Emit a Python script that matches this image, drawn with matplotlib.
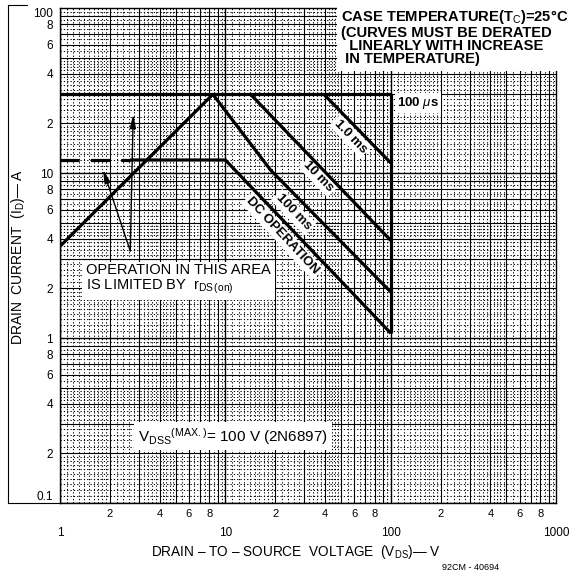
import numpy as np
import matplotlib.pyplot as plt
from matplotlib.lines import Line2D

plt.rcParams.update({
    "font.family": ["Liberation Sans", "DejaVu Sans"],
    "mathtext.fontset": "custom",
    "mathtext.rm": "Liberation Sans",
    "mathtext.it": "Liberation Sans:italic",
    "mathtext.bf": "Liberation Sans:bold",
})

# ---------------------------------------------------------------------------
# Data
# ---------------------------------------------------------------------------
top_v = [1, 100]             # pulsed current limit (100 us)
top_i = [30, 30]
vmax_v = [100, 100]          # VDSS max
vmax_i = [30, 1.07]
rds_v = [1, 8.4]             # rDS(on) limit
rds_i = [3.6, 30]
ms1_v = [39.4, 100]
ms1_i = [30, 11.5]
ms10_v = [14.2, 100]
ms10_i = [30, 3.9]
ms100_v = [8.4, 18.8, 100]
ms100_i = [30, 10.4, 1.9]
dc_dash_v = [1, 2.65]
dc_dash_i = [12, 12]
dc_v = [2.65, 10, 100]
dc_i = [12, 12, 1.07]

x_major = [1, 10, 100, 1000]
x_major_labels = ["1", "10", "100", "1000"]
x_minor = [2, 4, 6, 8, 20, 40, 60, 80, 200, 400, 600, 800]
x_minor_labels = ["2", "4", "6", "8"] * 3
y_major = [0.1, 1, 10, 100]
y_major_labels = ["0.1", "1", "10", "100"]
y_minor = [0.2, 0.4, 0.6, 0.8, 2, 4, 6, 8, 20, 40, 60, 80]
y_minor_labels = ["2", "4", "6", "8"] * 3

# ---------------------------------------------------------------------------
# Figure
# ---------------------------------------------------------------------------
fig = plt.figure(figsize=(5.77, 5.75), dpi=100)
ax = fig.add_axes([0.104, 0.125, 0.860, 0.861])
ax.set_xscale("log")
ax.set_yscale("log")
ax.set_xlim(1, 1000)
ax.set_ylim(0.1, 100)

# log-paper grid
def paper_lines(axline, decades):
    for d in decades:
        for n in range(1, 10):
            axline(n * d, color="black", lw=1.0 if n == 1 else 0.8, zorder=1)
            step = 0.1 if n < 2 else (0.2 if n < 5 else 0.5)
            for s in np.arange(n + step, n + 1 - 1e-9, step):
                axline(s * d, color="black", lw=0.75,
                       ls=(0, (1.2, 2.0)), zorder=1)

paper_lines(ax.axvline, [1, 10, 100])
paper_lines(ax.axhline, [0.1, 1, 10])

# curves
lw = 2.3
kw = dict(color="black", lw=lw, zorder=5, solid_capstyle="butt")
ax.plot(top_v, top_i, **kw)
ax.plot(vmax_v, vmax_i, **kw)
ax.plot(rds_v, rds_i, **kw)
ax.plot(ms1_v, ms1_i, **kw)
ax.plot(ms10_v, ms10_i, **kw)
ax.plot(ms100_v, ms100_i, **kw)
ax.plot(dc_v, dc_i, **kw)
ax.plot(dc_dash_v, dc_dash_i, color="black", lw=lw, ls=(0, (6, 3.5)), zorder=5)

# curve labels
box = dict(facecolor="white", edgecolor="none", pad=1.5)
lab = dict(fontsize=9.5, fontweight="bold", ha="center", va="center",
           bbox=box, zorder=4)
ax.text(146, 26.6, "100 $\\mu$s", **lab)
ax.text(57, 16.7, "1.0 ms", rotation=-46, **lab)
ax.text(36.6, 9.5, "10 ms", rotation=-46, **lab)
ax.text(25.8, 5.8, "100 ms", rotation=-46, **lab)
ax.text(22.2, 4.15, "DC OPERATION", rotation=-47, **lab)

# rDS(on) note with arrows
ax.text(0.052, 0.452, "OPERATION IN THIS AREA\nIS LIMITED BY  r$_{\\mathrm{DS\\,(on)}}$",
        transform=ax.transAxes, fontsize=10.5, ha="left", va="center",
        linespacing=1.1, bbox=dict(facecolor="white", edgecolor="none", pad=3),
        zorder=4)
arrow = dict(arrowstyle="-|>,head_length=0.8,head_width=0.18",
             color="black", lw=1.0, shrinkA=0, shrinkB=0)
ax.annotate("", xy=(1.82, 10.5), xytext=(2.66, 3.37), arrowprops=arrow, zorder=6)
ax.annotate("", xy=(2.77, 22.7), xytext=(2.66, 3.37), arrowprops=arrow, zorder=6)

# case temperature note
ax.text(0.566, 1.0, "CASE TEMPERATURE(T$_\\mathrm{C}$)=25°C\n"
        "(CURVES MUST BE DERATED\n"
        "  LINEARLY WITH INCREASE\n"
        " IN TEMPERATURE)",
        transform=ax.transAxes, fontsize=10.6, fontweight="bold",
        ha="left", va="top", linespacing=0.95, clip_on=False,
        bbox=dict(facecolor="white", edgecolor="none", pad=3), zorder=4)

# VDSS note
ax.text(0.157, 0.135, "V$_{\\mathrm{DSS}}$$^{\\mathrm{(MAX.)}}$= 100 V (2N6897)",
        transform=ax.transAxes, fontsize=11, ha="left", va="center",
        bbox=dict(facecolor="white", edgecolor="none", pad=2.5), zorder=4)

# ticks
ax.set_xticks(x_major)
ax.set_xticklabels(x_major_labels)
ax.set_xticks(x_minor, minor=True)
ax.set_xticklabels(x_minor_labels, minor=True)
ax.set_yticks(y_major)
ax.set_yticklabels(y_major_labels)
ax.set_yticks(y_minor, minor=True)
ax.set_yticklabels(y_minor_labels, minor=True)
ax.tick_params(axis="x", which="major", length=0, pad=17, labelsize=8.5)
ax.tick_params(axis="x", which="minor", length=0, pad=4, labelsize=8)
ax.tick_params(axis="y", which="both", length=0, pad=5, labelsize=8.5)
ylabs = ax.get_yticklabels()
ylabs[0].set_va("bottom")
ylabs[-1].set_va("top")
for s in ax.spines.values():
    s.set_linewidth(1.0)

fig.text(0.512, 0.040, "DRAIN – TO – SOURCE  VOLTAGE  (V$_\\mathrm{DS}$)— V",
         fontsize=9.8, ha="center", va="center")
fig.text(0.031, 0.553, "DRAIN  CURRENT  (I$_\\mathrm{D}$)— A",
         fontsize=10, ha="center", va="center", rotation=90)
fig.text(0.815, 0.005, "92CM - 40694", fontsize=6.5, ha="center", va="bottom")

# outer frame on the left
fig.add_artist(Line2D([8 / 577, 8 / 577], [1 - 5 / 575, 1 - 503 / 575],
                      transform=fig.transFigure, color="black", lw=0.8))
fig.add_artist(Line2D([8 / 577, 60 / 577], [1 - 503 / 575, 1 - 503 / 575],
                      transform=fig.transFigure, color="black", lw=0.8))
fig.add_artist(Line2D([8 / 577, 27 / 577], [1 - 5 / 575, 1 - 5 / 575],
                      transform=fig.transFigure, color="black", lw=0.8))

fig.savefig("out.png", dpi=100)
